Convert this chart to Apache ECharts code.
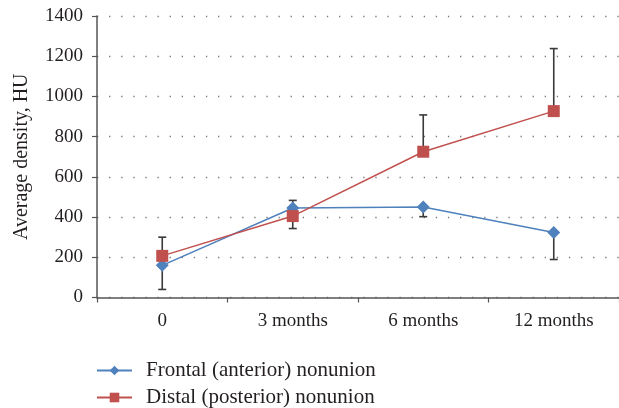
<!DOCTYPE html>
<html>
<head>
<meta charset="utf-8">
<script src="https://cdn.jsdelivr.net/npm/echarts@6/dist/echarts.min.js"></script>
<style>
html,body{margin:0;padding:0;background:#fff;}
#chart{width:619px;height:408px;}
</style>
</head>
<body>
<div id="chart"></div>
<script>
var categories = ['0', '3 months', '6 months', '12 months'];
var frontalName = 'Frontal (anterior) nonunion';
var distalName = 'Distal (posterior) nonunion';
var frontalValues = [160, 445, 450, 323];
var distalValues = [207, 405, 725, 927];
// end point of the one-sided error bar for each point
var frontalErrEnd = [40, 483, 402, 189];
var distalErrEnd = [300, 343, 908, 1238];
var yTicks = [0, 200, 400, 600, 800, 1000, 1200, 1400];

var FONT = 'Liberation Serif';
var blue = '#4F81BD';
var red = '#C0504D';

function errData(values, ends) {
  return values.map(function (v, i) { return [i, v, ends[i]]; });
}

function renderErr(params, api) {
  var idx = api.value(0);
  var p1 = api.coord([idx, api.value(1)]);
  var p2 = api.coord([idx, api.value(2)]);
  var cap = 4;
  var style = { stroke: '#3a3a3a', lineWidth: 1.6 };
  return {
    type: 'group',
    children: [
      { type: 'line', shape: { x1: p1[0], y1: p1[1], x2: p2[0], y2: p2[1] }, style: style },
      { type: 'line', shape: { x1: p2[0] - cap, y1: p2[1], x2: p2[0] + cap, y2: p2[1] }, style: style }
    ]
  };
}

function legendFor(name, top) {
  return {
    data: [name],
    orient: 'vertical',
    left: 96,
    top: top,
    padding: 0,
    itemWidth: 35,
    itemHeight: 12,
    textStyle: { fontFamily: FONT, fontSize: 21, color: '#231f20', padding: [0, 0, 0, 9] }
  };
}

var chart = echarts.init(document.getElementById('chart'), null, { renderer: 'canvas' });
chart.setOption({
  animation: false,
  backgroundColor: '#fff',
  textStyle: { fontFamily: FONT },
  grid: { left: 97, top: 16, width: 524, height: 281.5, containLabel: false },
  legend: [legendFor(frontalName, 360), legendFor(distalName, 387)],
  xAxis: {
    type: 'category',
    data: categories,
    boundaryGap: true,
    axisLine: { lineStyle: { color: '#555', width: 1.5 } },
    axisTick: { show: true, length: 5, inside: false, lineStyle: { color: '#555', width: 1.2 } },
    axisLabel: { fontFamily: FONT, fontSize: 19, color: '#231f20', margin: 14 },
    splitLine: { show: false }
  },
  yAxis: {
    type: 'value',
    min: 0,
    max: 1400,
    interval: 200,
    name: 'Average density, HU',
    nameLocation: 'middle',
    nameGap: 65,
    nameRotate: 90,
    nameTextStyle: { fontFamily: FONT, fontSize: 20, color: '#231f20' },
    axisLine: { show: true, lineStyle: { color: '#555', width: 1.5 } },
    axisTick: { show: true, length: 5, lineStyle: { color: '#555', width: 1.2 } },
    axisLabel: {
      fontFamily: FONT, fontSize: 19, color: '#231f20', margin: 14,
      formatter: function (v) { return yTicks.indexOf(v) >= 0 ? String(v) : ''; }
    },
    splitLine: { show: true, lineStyle: { color: '#777', width: 1.3, type: [1.3, 10.8] } }
  },
  series: [
    {
      type: 'custom',
      name: 'frontalErr',
      renderItem: renderErr,
      encode: { x: 0, y: [1, 2] },
      data: errData(frontalValues, frontalErrEnd),
      z: 1,
      silent: true
    },
    {
      type: 'custom',
      name: 'distalErr',
      renderItem: renderErr,
      encode: { x: 0, y: [1, 2] },
      data: errData(distalValues, distalErrEnd),
      z: 1,
      silent: true
    },
    {
      type: 'line',
      name: frontalName,
      data: frontalValues,
      symbol: 'diamond',
      symbolSize: 13,
      color: blue,
      lineStyle: { color: blue, width: 1.5 },
      itemStyle: { color: blue },
      z: 3
    },
    {
      type: 'line',
      name: distalName,
      data: distalValues,
      symbol: 'rect',
      symbolSize: 12,
      color: red,
      lineStyle: { color: red, width: 1.5 },
      itemStyle: { color: red },
      z: 4
    }
  ]
});
</script>
</body>
</html>
